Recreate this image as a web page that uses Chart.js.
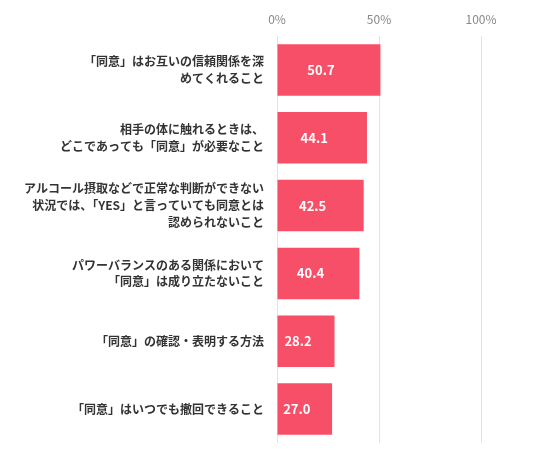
<!DOCTYPE html>
<html>
<head>
<meta charset="utf-8">
<script src="https://cdn.jsdelivr.net/npm/chart.js@4"></script>
<style>
  body { margin: 0; background: #fff; }
  #wrap { width: 535px; height: 450px; }
</style>
</head>
<body>
<div id="wrap"><canvas id="myChart" width="535" height="450"></canvas></div>
<script>
const categories = [
  ['「同意」はお互いの信頼関係を深', 'めてくれること'],
  ['相手の体に触れるときは、', 'どこであっても「同意」が必要なこと'],
  ['アルコール摂取などで正常な判断ができない', '状況では、「YES」と言っていても同意とは', '認められないこと'],
  ['パワーバランスのある関係において', '「同意」は成り立たないこと'],
  '「同意」の確認・表明する方法',
  '「同意」はいつでも撤回できること'
];
const values = [50.7, 44.1, 42.5, 40.4, 28.2, 27.0];
const tickValues = [0, 50, 100];

const fontFamily = '"Noto Sans CJK JP", "Noto Sans", sans-serif';

// white value labels inside the bars
const valueLabels = {
  id: 'valueLabels',
  afterDatasetsDraw(chart) {
    const ctx = chart.ctx;
    const meta = chart.getDatasetMeta(0);
    ctx.save();
    ctx.fillStyle = '#fff';
    ctx.font = 'bold 13px ' + fontFamily;
    ctx.textAlign = 'center';
    ctx.textBaseline = 'middle';
    meta.data.forEach((bar, i) => {
      const cx = (bar.base + bar.x) / 2 - 8;
      ctx.fillText(values[i].toFixed(1), cx, bar.y);
    });
    ctx.restore();
  }
};

const ctx = document.getElementById('myChart');

new Chart(ctx, {
  type: 'bar',
  data: {
    labels: categories,
    datasets: [{
      data: values,
      backgroundColor: '#f74f67',
      borderWidth: 0,
      barPercentage: 0.76,
      categoryPercentage: 1
    }]
  },
  options: {
    indexAxis: 'y',
    responsive: false,
    animation: false,
    layout: { padding: { top: 0, right: 54, bottom: 7, left: 0 } },
    scales: {
      x: {
        position: 'top',
        min: 0,
        max: 100,
        afterBuildTicks: (scale) => { scale.ticks = tickValues.map(v => ({ value: v })); },
        afterFit: (scale) => { scale.height = 36; },
        ticks: {
          callback: (v) => v + '%',
          color: '#888',
          padding: 9,
          font: { family: fontFamily, size: 12 }
        },
        grid: { color: '#e3e3e3', drawTicks: false },
        border: { display: false }
      },
      y: {
        afterFit: (scale) => {
          scale.width = 277;
          scale.paddingTop = 0;
          scale.paddingBottom = 0;
        },
        ticks: {
          color: '#333',
          padding: 5,
          font: { family: fontFamily, size: 12, weight: 'bold', lineHeight: 1.4 }
        },
        grid: { display: false },
        border: { display: false }
      }
    },
    plugins: {
      legend: { display: false },
      tooltip: { enabled: false }
    }
  },
  plugins: [valueLabels]
});
</script>
</body>
</html>
